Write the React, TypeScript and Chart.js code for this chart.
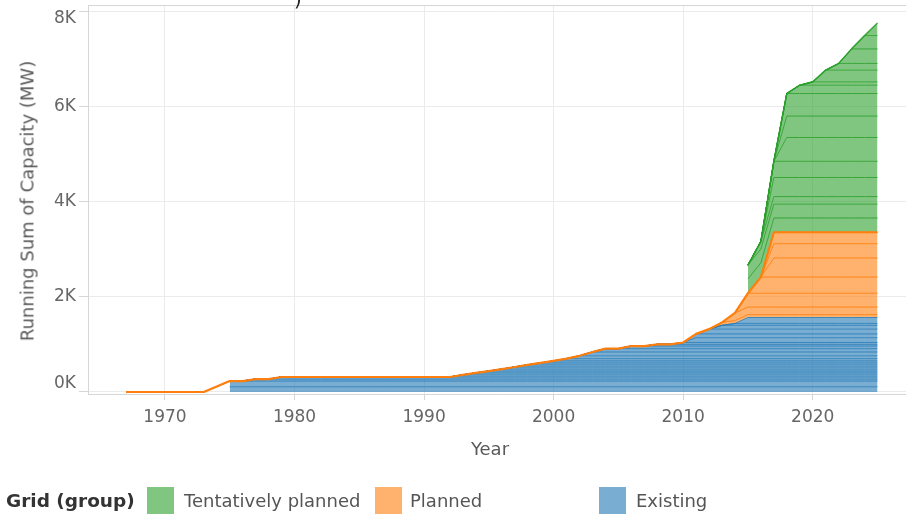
import React, { useEffect, useRef } from "react";
import { Chart, registerables } from "chart.js";

Chart.register(...registerables);

// ---- data ----
const years = [
  1967, 1968, 1969, 1970, 1971, 1972, 1973, 1975, 1976, 1977, 1978, 1979,
  1980, 1981, 1982, 1983, 1984, 1985, 1986, 1987, 1988, 1989, 1990, 1991,
  1992, 1993, 1994, 1995, 1996, 1997, 1998, 1999, 2000, 2001, 2002, 2003,
  2004, 2005, 2006, 2007, 2008, 2009, 2010, 2011, 2012, 2013, 2014, 2015,
  2016, 2017, 2018, 2019, 2020, 2021, 2022, 2023, 2024, 2025,
];

// Existing projects: first year in service and capacity (MW)
const existingStart = [
  1975, 1975, 1977, 1979, 1993, 1994, 1995, 1996, 1997, 1998, 1999, 2000,
  2001, 2002, 2003, 2004, 2006, 2008, 2010, 2011, 2011, 2012, 2013, 2014,
  2015,
];
const existingMW = [
  110, 120, 40, 45, 45, 40, 40, 40, 45, 45, 40, 43,
  47, 60, 80, 70, 55, 35, 40, 100, 80, 100, 80, 40,
  124,
];

// Planned projects
const plannedStart = [2013, 2014, 2015, 2016, 2017, 2017, 2017];
const plannedMW = [60, 160, 290, 340, 400, 300, 240];

// Tentatively planned projects
const tentativeStart = [
  2015, 2015, 2016, 2017, 2017, 2018, 2018, 2018, 2019, 2020, 2021, 2022,
  2023, 2024, 2025,
];
const tentativeMW = [
  300, 290, 160, 400, 340, 500, 450, 473, 175, 70, 246, 141,
  305, 280, 263,
];

const xTicks = [1970, 1980, 1990, 2000, 2010, 2020];
const yTicks = [0, 2000, 4000, 6000, 8000];
const yTickLabels = ["0K", "2K", "4K", "6K", "8K"];

const legendTitle = "Grid (group)";
const legendItems = ["Tentatively planned", "Planned", "Existing"];

// ---- styles ----
const FONT = '"DejaVu Sans", Verdana, sans-serif';
const BLUE_FILL = "rgba(31,119,180,0.6)";
const BLUE_LINE = "rgba(31,119,180,0.75)";
const ORANGE_FILL = "rgba(255,127,14,0.6)";
const ORANGE_LINE = "rgba(255,127,14,0.9)";
const GREEN_FILL = "rgba(44,160,44,0.6)";
const GREEN_LINE = "rgba(44,160,44,0.85)";
const GRID = "#ebebeb";
const AXIS = "#d6d6d6";
const TICK_TEXT = "#666666";

const decorations = {
  id: "decorations",
  afterDraw(chart: any) {
    const { ctx, chartArea } = chart;
    ctx.save();
    // top frame line
    ctx.strokeStyle = AXIS;
    ctx.lineWidth = 1;
    ctx.beginPath();
    ctx.moveTo(chartArea.left, chartArea.top + 0.5);
    ctx.lineTo(chartArea.right, chartArea.top + 0.5);
    ctx.stroke();
    // y tick labels (edge labels kept inside the pane, as in the reference)
    const ys = chart.scales.y;
    ctx.fillStyle = TICK_TEXT;
    ctx.font = `17px ${FONT}`;
    ctx.textAlign = "right";
    yTicks.forEach((v, i) => {
      const py = ys.getPixelForValue(v);
      let off = 0;
      if (i === 0) off = -8;
      if (i === yTicks.length - 1) off = 8;
      ctx.textBaseline = "middle";
      ctx.fillText(yTickLabels[i], 76, py + off);
    });
    ctx.restore();
  },
};

export default function App() {
  const ref = useRef<HTMLCanvasElement>(null);

  useEffect(() => {
    const canvas = ref.current;
    if (!canvas) return;

    const layer = (start: number, mw: number, firstYear: number) =>
      years.map((yr) => ({ x: yr, y: yr < firstYear ? null : yr >= start ? mw : 0 }));

    const datasets: any[] = [];
    const existingFirst = Math.min(...existingStart);
    const tentativeFirst = Math.min(...tentativeStart);

    existingStart.forEach((s, i) => {
      datasets.push({
        data: layer(s, existingMW[i], existingFirst),
        backgroundColor: BLUE_FILL,
        borderColor: BLUE_LINE,
        borderWidth: 1,
        fill: datasets.length === 0 ? "origin" : "-1",
        stack: "grid",
      });
    });
    plannedStart.forEach((s, i) => {
      datasets.push({
        data: layer(s, plannedMW[i], years[0]),
        backgroundColor: ORANGE_FILL,
        borderColor: ORANGE_LINE,
        borderWidth: 1,
        fill: "-1",
        stack: "grid",
      });
    });
    tentativeStart.forEach((s, i) => {
      datasets.push({
        data: layer(s, tentativeMW[i], tentativeFirst),
        backgroundColor: GREEN_FILL,
        borderColor: GREEN_LINE,
        borderWidth: i === tentativeStart.length - 1 ? 1.6 : 1,
        fill: "-1",
        stack: "grid",
      });
    });
    // orange outline on top of existing + planned
    const outline = years.map((yr) => {
      let t = 0;
      existingStart.forEach((s, i) => {
        if (yr >= s) t += existingMW[i];
      });
      plannedStart.forEach((s, i) => {
        if (yr >= s) t += plannedMW[i];
      });
      return { x: yr, y: t };
    });
    datasets.push({
      data: outline,
      borderColor: "#ff7f0e",
      borderWidth: 2.2,
      fill: false,
      stack: "outline",
      order: -1,
    });

    const chart = new Chart(canvas, {
      type: "line",
      data: { datasets },
      plugins: [decorations],
      options: {
        animation: false,
        responsive: false,
        devicePixelRatio: 1,
        layout: { padding: { left: 0, right: 0, top: 5, bottom: 0 } },
        elements: {
          point: { radius: 0, hoverRadius: 0 },
          line: { tension: 0, borderJoinStyle: "round" },
        },
        plugins: {
          legend: { display: false },
          tooltip: { enabled: false },
          title: { display: false },
        },
        scales: {
          x: {
            type: "linear",
            min: 1964.06,
            max: 2027.2,
            afterBuildTicks: (s: any) => {
              s.ticks = xTicks.map((v) => ({ value: v }));
            },
            afterFit: (s: any) => {
              s.height = 121;
              s.paddingLeft = 0;
              s.paddingRight = 0;
            },
            ticks: {
              callback: (v: any) => String(v),
              font: { family: FONT, size: 17 },
              color: TICK_TEXT,
              padding: 7,
              maxRotation: 0,
              autoSkip: false,
            },
            grid: {
              color: GRID,
              lineWidth: 1,
              drawTicks: true,
              tickLength: 6,
              tickColor: AXIS,
            },
            border: { display: true, color: AXIS, width: 1 },
          },
          y: {
            type: "linear",
            stacked: true,
            min: -42,
            max: 8126,
            afterBuildTicks: (s: any) => {
              s.ticks = yTicks.map((v) => ({ value: v }));
            },
            afterFit: (s: any) => {
              s.width = 88;
              s.paddingTop = 0;
              s.paddingBottom = 0;
            },
            ticks: {
              display: false,
            },
            grid: {
              color: GRID,
              lineWidth: 1,
              drawTicks: true,
              tickLength: 9,
              tickColor: AXIS,
            },
            border: { display: true, color: AXIS, width: 1 },
          },
        },
      },
    });
    return () => chart.destroy();
  }, []);

  const swatch = (color: string, left: number) => (
    <div
      style={{
        position: "absolute",
        left,
        top: 487,
        width: 27,
        height: 27,
        background: color,
      }}
    />
  );
  const label = (text: string, left: number, bold = false) => (
    <div
      style={{
        position: "absolute",
        left,
        top: 490,
        fontFamily: FONT,
        fontSize: bold ? 18.5 : 18,
        fontWeight: bold ? "bold" : "normal",
        color: bold ? "#333333" : "#555555",
        whiteSpace: "nowrap",
        lineHeight: "22px",
      }}
    >
      {text}
    </div>
  );

  return (
    <div
      style={{
        position: "absolute",
        left: 0,
        top: 0,
        width: 906,
        height: 515,
        background: "#ffffff",
        overflow: "hidden",
      }}
    >
      <canvas ref={ref} width={906} height={515} style={{ display: "block", width: 906, height: 515 }} />
      <div
        style={{
          position: "absolute",
          left: 294,
          top: -13,
          fontFamily: FONT,
          fontSize: 20,
          color: "#222",
        }}
      >
        )
      </div>
      <div
        style={{
          position: "absolute",
          left: 27,
          top: 201,
          transform: "translate(-50%, -50%) rotate(-90deg)",
          fontFamily: FONT,
          fontSize: 18,
          color: "#5a5a5a",
          whiteSpace: "nowrap",
        }}
      >
        Running Sum of Capacity (MW)
      </div>
      <div
        style={{
          position: "absolute",
          left: 490,
          top: 448,
          transform: "translate(-50%, -50%)",
          fontFamily: FONT,
          fontSize: 18,
          color: "#5a5a5a",
          whiteSpace: "nowrap",
        }}
      >
        Year
      </div>
      {label(legendTitle, 6, true)}
      {swatch("rgb(128,198,128)", 147)}
      {label(legendItems[0], 184)}
      {swatch("rgb(255,178,110)", 375)}
      {label(legendItems[1], 410)}
      {swatch("rgb(121,173,210)", 599)}
      {label(legendItems[2], 636)}
    </div>
  );
}
